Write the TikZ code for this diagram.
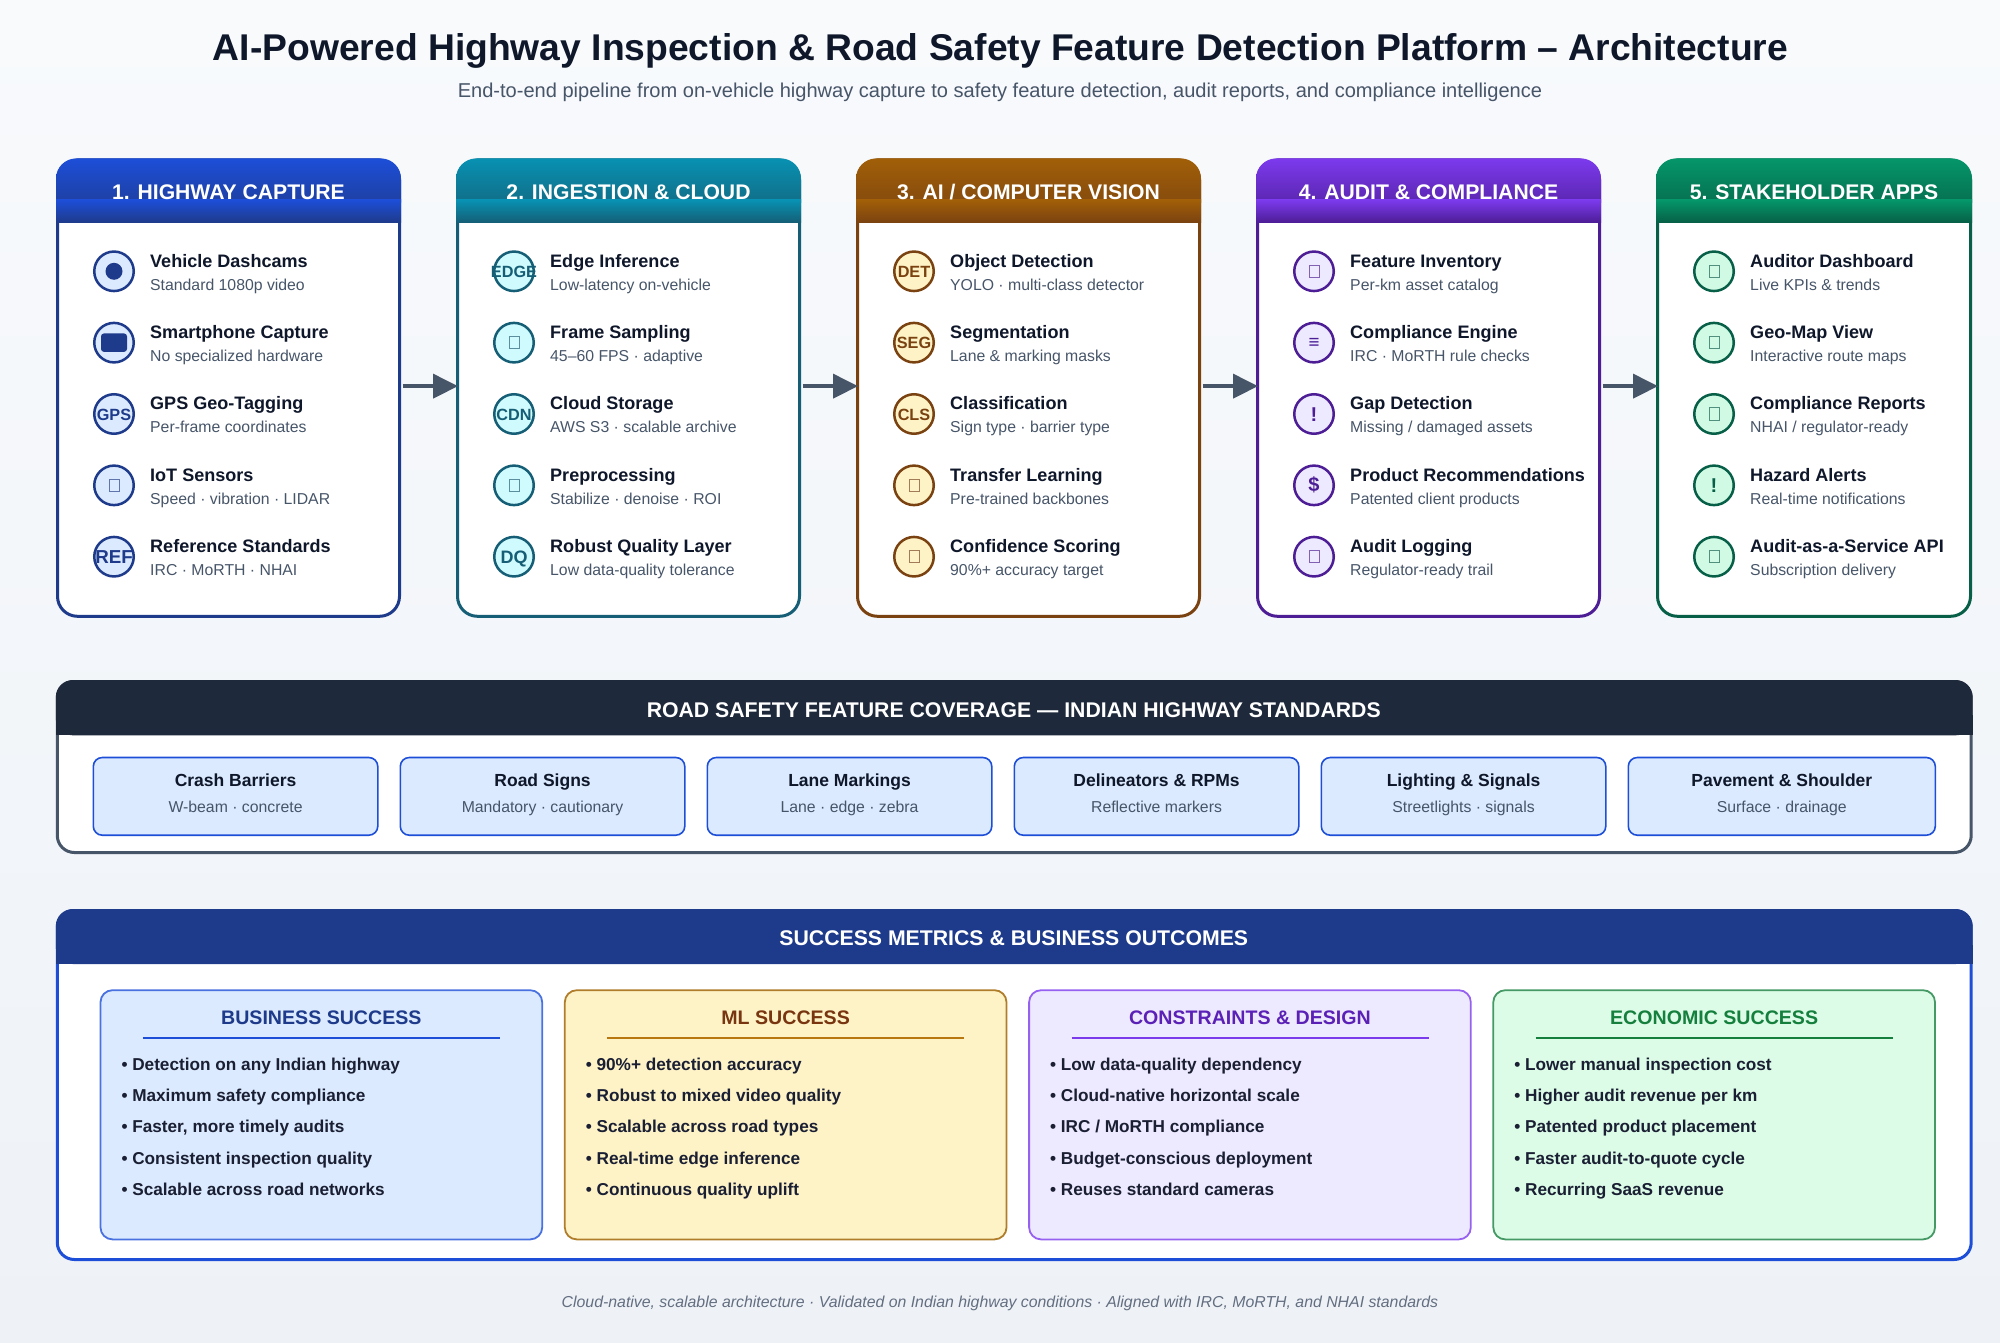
\documentclass[tikz,border=0pt]{standalone}
\usepackage{fontspec}
\setmainfont{Liberation Sans}
\usetikzlibrary{arrows.meta,calc}
\definecolor{bgtop}{HTML}{F8FAFC}
\definecolor{bgbot}{HTML}{EEF2F7}
\definecolor{ink}{HTML}{0F172A}
\definecolor{bink}{HTML}{1A1F33}
\definecolor{subink}{HTML}{475569}
\definecolor{slate}{HTML}{475569}
\definecolor{aT}{HTML}{1D4ED8}\definecolor{aB}{HTML}{1E3A8A}\definecolor{aF}{HTML}{DBEAFE}
\definecolor{bT}{HTML}{0891B2}\definecolor{bB}{HTML}{155E75}\definecolor{bF}{HTML}{CFFAFE}
\definecolor{cT}{HTML}{A15F08}\definecolor{cB}{HTML}{7A4210}\definecolor{cF}{HTML}{FEF3C7}
\definecolor{dT}{HTML}{7C3AED}\definecolor{dB}{HTML}{4C1D95}\definecolor{dF}{HTML}{EDE9FE}
\definecolor{eT}{HTML}{059669}\definecolor{eB}{HTML}{065F46}\definecolor{eF}{HTML}{D1FAE5}
\definecolor{gF}{HTML}{DCFCE7}\definecolor{gT}{HTML}{15803D}
\definecolor{mlS}{HTML}{B07D2B}\definecolor{mlR}{HTML}{B8770F}\definecolor{mlT}{HTML}{78350F}
\definecolor{puT}{HTML}{5B21B6}
\definecolor{dark}{HTML}{1E293B}
\newcommand{\fs}[1]{\fontsize{#1}{#1}\selectfont}
\tikzset{
  x=1pt,y=-1pt,
  panelbox/.style={draw=#1B,line width=3pt,fill=white,rounded corners=20pt,rectangle,inner sep=0pt,outer sep=0pt,anchor=north west},
  iconc/.style={circle,draw=#1B,fill=#1F,line width=2.5pt,minimum size=39.5pt,inner sep=0pt},
  ictext/.style={anchor=base,inner sep=0pt,text=#1B,font=\bfseries},
  tofu/.style={rectangle,draw=#1B!70,line width=1pt,minimum width=10pt,minimum height=12.5pt,inner sep=0pt},
  ttext/.style={anchor=base west,inner sep=0pt,font=\bfseries\fs{18.05},text=ink},
  stext/.style={anchor=base west,inner sep=0pt,font=\fs{15.8},text=subink},
  hdtext/.style={anchor=base,inner sep=0pt,font=\bfseries\fs{21.15},text=white},
  flow/.style={draw=slate,line width=4pt,-{Triangle[length=25pt,width=24pt]},shorten >=-0.5pt},
  chip/.style={rectangle,draw=aT,fill=aF,line width=1.6pt,rounded corners=9pt,anchor=north west,inner sep=0pt,outer sep=0pt},
  ctitle/.style={anchor=base,inner sep=0pt,font=\bfseries\fs{17.5},text=ink},
  csub/.style={anchor=base,inner sep=0pt,font=\fs{15.8},text=subink},
  card/.style={rectangle,line width=1.8pt,rounded corners=12pt,anchor=north west,inner sep=0pt,outer sep=0pt,minimum width=441.7pt,minimum height=249.2pt},
  btitle/.style={anchor=base,inner sep=0pt,font=\bfseries\fs{19.6}},
  bitem/.style={anchor=base west,inner sep=0pt,font=\bfseries\fs{17.2},text=bink},
  sectext/.style={anchor=base,inner sep=0pt,font=\bfseries\fs{21.25},text=white},
  sect/.style={rectangle,line width=3pt,fill=white,rounded corners=17pt,anchor=north west,inner sep=0pt,outer sep=0pt,minimum width=1913.9pt},
  dot/.style={circle,fill=#1,draw=none,minimum size=17pt,inner sep=0pt},
  phone/.style={rectangle,fill=#1,draw=none,rounded corners=3pt,minimum width=26pt,minimum height=18.5pt,inner sep=0pt},
}
% #1 panel no, #2 letter key, #3 left x, #4 width, #5 title
\newcommand{\panel}[5]{%
  \node[panelbox=#2,minimum width=#4pt,minimum height=456.3pt] (p#1) at (#3,160) {};
  \shade[top color=#2T,bottom color=#2B,rounded corners=20pt]
     (#3-1.5,158.5) rectangle (#3+#4+1.5,222.7);
  \shade[top color=#2T,bottom color=#2B] (#3-1.5,200) rectangle (#3+#4+1.5,222.7);
  \node[hdtext] (h#1) at (#3+#4/2,200) {#5};
}
% #1 id, #2 key, #3 left x, #4 row, #5 title, #6 sub
\newcommand{\rowbase}[6]{%
  \pgfmathsetmacro{\ry}{271.3+71.35*(#4-1)}
  \node[iconc=#2] (i#1) at (#3+56.5,\ry) {};
  \node[ttext] (t#1) at (#3+92.5,\ry-4.3) {#5};
  \node[stext] (s#1) at (#3+92.5,\ry+18.8) {#6};
}
% icon text: #1 id #2 key #3 size #4 drop #5 text
\newcommand{\ictxt}[5]{\node[ictext=#2] (g#1) at ([yshift=-#4pt]i#1.center) {\fs{#3}#5};}
% chips: #1 id #2 x #3 w #4 title #5 sub
\newcommand{\chipbox}[5]{%
  \node[chip,minimum width=#3pt,minimum height=77.7pt] (c#1) at (#2,757.5) {};
  \node[ctitle] (ct#1) at (#2+#3/2,786) {#4};
  \node[csub] (cs#1) at (#2+#3/2,812.7) {#5};
}
% cards: #1 id #2 x #3 fill #4 stroke #5 title col #6 rule col #7 title
\newcommand{\cardbox}[7]{%
  \node[card,draw=#4,fill=#3] (k#1) at (#2,990.2) {};
  \node[btitle,text=#5] (kt#1) at (#2+220.85,1024) {#7};
  \coordinate (ra#1) at (#2+42.4,1038.3);
  \coordinate (rb#1) at (#2+399.5,1038.3);
  \draw[draw=#6,line width=1.8pt] (ra#1) -- (rb#1);
}
\newcommand{\bul}[4]{\node[bitem] (b#1#2) at (#3+20.8,{1070+31.4*(#2-1)}) {• #4};}
\begin{document}
\begin{tikzpicture}
\useasboundingbox (0,0) rectangle (2000,1343);
\shade[top color=bgtop,bottom color=bgbot] (0,0) rectangle (2000,1343);

\node[anchor=base,inner sep=0pt,font=\bfseries\fs{37.25},text=ink] (title) at (1000.5,60.5) {AI-Powered Highway Inspection \& Road Safety Feature Detection Platform – Architecture};
\node[anchor=base,inner sep=0pt,font=\fs{20.05},text=subink] (subtitle) at (1000,97.5) {End-to-end pipeline from on-vehicle highway capture to safety feature detection, audit reports, and compliance intelligence};

\panel{1}{a}{57.5}{342}{1. HIGHWAY CAPTURE}
\panel{2}{b}{457.5}{342}{2. INGESTION \& CLOUD}
\panel{3}{c}{857.5}{342}{3. AI / COMPUTER VISION}
\panel{4}{d}{1257.5}{342}{4. AUDIT \& COMPLIANCE}
\panel{5}{e}{1657.5}{313}{5. STAKEHOLDER APPS}

\foreach \u/\v in {1/2,2/3,3/4,4/5}
  \draw[flow] ([yshift=2pt,xshift=3pt]p\u.east) -- ([yshift=2pt]p\v.west);

% Panel 1
\rowbase{11}{a}{57.5}{1}{Vehicle Dashcams}{Standard 1080p video}
\node[dot=aB] (g11) at (i11) {};
\rowbase{12}{a}{57.5}{2}{Smartphone Capture}{No specialized hardware}
\node[phone=aB] (g12) at (i12) {};
\rowbase{13}{a}{57.5}{3}{GPS Geo-Tagging}{Per-frame coordinates}
\ictxt{13}{a}{16.25}{6.3}{GPS}
\rowbase{14}{a}{57.5}{4}{IoT Sensors}{Speed · vibration · LIDAR}
\node[tofu=a] (g14) at (i14) {};
\rowbase{15}{a}{57.5}{5}{Reference Standards}{IRC · MoRTH · NHAI}
\ictxt{15}{a}{18.75}{7}{REF}
% Panel 2
\rowbase{21}{b}{457.5}{1}{Edge Inference}{Low-latency on-vehicle}
\ictxt{21}{b}{16.25}{6.3}{EDGE}
\rowbase{22}{b}{457.5}{2}{Frame Sampling}{45–60 FPS · adaptive}
\node[tofu=b] (g22) at (i22) {};
\rowbase{23}{b}{457.5}{3}{Cloud Storage}{AWS S3 · scalable archive}
\ictxt{23}{b}{16.25}{6.3}{CDN}
\rowbase{24}{b}{457.5}{4}{Preprocessing}{Stabilize · denoise · ROI}
\node[tofu=b] (g24) at (i24) {};
\rowbase{25}{b}{457.5}{5}{Robust Quality Layer}{Low data-quality tolerance}
\ictxt{25}{b}{18}{7}{DQ}
% Panel 3
\rowbase{31}{c}{857.5}{1}{Object Detection}{YOLO · multi-class detector}
\ictxt{31}{c}{16.25}{6.3}{DET}
\rowbase{32}{c}{857.5}{2}{Segmentation}{Lane \& marking masks}
\ictxt{32}{c}{16.25}{6.3}{SEG}
\rowbase{33}{c}{857.5}{3}{Classification}{Sign type · barrier type}
\ictxt{33}{c}{16.25}{6.3}{CLS}
\rowbase{34}{c}{857.5}{4}{Transfer Learning}{Pre-trained backbones}
\node[tofu=c] (g34) at (i34) {};
\rowbase{35}{c}{857.5}{5}{Confidence Scoring}{90\%+ accuracy target}
\node[tofu=c] (g35) at (i35) {};
% Panel 4
\rowbase{41}{d}{1257.5}{1}{Feature Inventory}{Per-km asset catalog}
\node[tofu=d] (g41) at (i41) {};
\rowbase{42}{d}{1257.5}{2}{Compliance Engine}{IRC · MoRTH rule checks}
\ictxt{42}{d}{18.75}{6}{≡}
\rowbase{43}{d}{1257.5}{3}{Gap Detection}{Missing / damaged assets}
\ictxt{43}{d}{20}{7}{!}
\rowbase{44}{d}{1257.5}{4}{Product Recommendations}{Patented client products}
\ictxt{44}{d}{20}{6.5}{\$}
\rowbase{45}{d}{1257.5}{5}{Audit Logging}{Regulator-ready trail}
\node[tofu=d] (g45) at (i45) {};
% Panel 5
\rowbase{51}{e}{1657.5}{1}{Auditor Dashboard}{Live KPIs \& trends}
\node[tofu=e] (g51) at (i51) {};
\rowbase{52}{e}{1657.5}{2}{Geo-Map View}{Interactive route maps}
\node[tofu=e] (g52) at (i52) {};
\rowbase{53}{e}{1657.5}{3}{Compliance Reports}{NHAI / regulator-ready}
\node[tofu=e] (g53) at (i53) {};
\rowbase{54}{e}{1657.5}{4}{Hazard Alerts}{Real-time notifications}
\ictxt{54}{e}{20}{7}{!}
\rowbase{55}{e}{1657.5}{5}{Audit-as-a-Service API}{Subscription delivery}
\node[tofu=e] (g55) at (i55) {};

% Coverage section
\node[sect,draw=slate,minimum height=171pt] (cov) at (57.3,681.5) {};
\fill[dark,rounded corners=17pt] (55.8,680) -- (1972.7,680) -- (1972.7,735.3) -- (55.8,735.3) -- cycle;
\fill[dark] (55.8,715) rectangle (1972.7,735.3);
\node[sectext] (covt) at (1013.75,717) {ROAD SAFETY FEATURE COVERAGE — INDIAN HIGHWAY STANDARDS};
\chipbox{1}{93.3}{284.5}{Crash Barriers}{W-beam · concrete}
\chipbox{2}{400.3}{284.5}{Road Signs}{Mandatory · cautionary}
\chipbox{3}{707.3}{284.5}{Lane Markings}{Lane · edge · zebra}
\chipbox{4}{1014.3}{284.5}{Delineators \& RPMs}{Reflective markers}
\chipbox{5}{1321.3}{284.5}{Lighting \& Signals}{Streetlights · signals}
\chipbox{6}{1628.3}{307}{Pavement \& Shoulder}{Surface · drainage}

% Success section
\node[sect,draw=aT,minimum height=349pt] (suc) at (57.3,910.5) {};
\fill[aB,rounded corners=17pt] (55.8,909) -- (1972.7,909) -- (1972.7,964) -- (55.8,964) -- cycle;
\fill[aB] (55.8,945) rectangle (1972.7,964);
\node[sectext] (suct) at (1013.75,945) {SUCCESS METRICS \& BUSINESS OUTCOMES};

\cardbox{1}{100.5}{aF}{aT!80!white}{aB}{aT}{BUSINESS SUCCESS}
\cardbox{2}{564.8}{cF}{mlS}{mlT}{mlR}{ML SUCCESS}
\cardbox{3}{1029.1}{dF}{dT!80!white}{puT}{dT}{CONSTRAINTS \& DESIGN}
\cardbox{4}{1493.3}{gF}{gT!80!white}{gT}{gT}{ECONOMIC SUCCESS}
\bul{1}{1}{100.5}{Detection on any Indian highway}
\bul{1}{2}{100.5}{Maximum safety compliance}
\bul{1}{3}{100.5}{Faster, more timely audits}
\bul{1}{4}{100.5}{Consistent inspection quality}
\bul{1}{5}{100.5}{Scalable across road networks}
\bul{2}{1}{564.8}{90\%+ detection accuracy}
\bul{2}{2}{564.8}{Robust to mixed video quality}
\bul{2}{3}{564.8}{Scalable across road types}
\bul{2}{4}{564.8}{Real-time edge inference}
\bul{2}{5}{564.8}{Continuous quality uplift}
\bul{3}{1}{1029.1}{Low data-quality dependency}
\bul{3}{2}{1029.1}{Cloud-native horizontal scale}
\bul{3}{3}{1029.1}{IRC / MoRTH compliance}
\bul{3}{4}{1029.1}{Budget-conscious deployment}
\bul{3}{5}{1029.1}{Reuses standard cameras}
\bul{4}{1}{1493.3}{Lower manual inspection cost}
\bul{4}{2}{1493.3}{Higher audit revenue per km}
\bul{4}{3}{1493.3}{Patented product placement}
\bul{4}{4}{1493.3}{Faster audit-to-quote cycle}
\bul{4}{5}{1493.3}{Recurring SaaS revenue}

\node[anchor=base,inner sep=0pt,font=\itshape\fs{15.85},text=slate!85!white] (foot) at (1000,1307) {Cloud-native, scalable architecture · Validated on Indian highway conditions · Aligned with IRC, MoRTH, and NHAI standards};
\end{tikzpicture}
\end{document}
